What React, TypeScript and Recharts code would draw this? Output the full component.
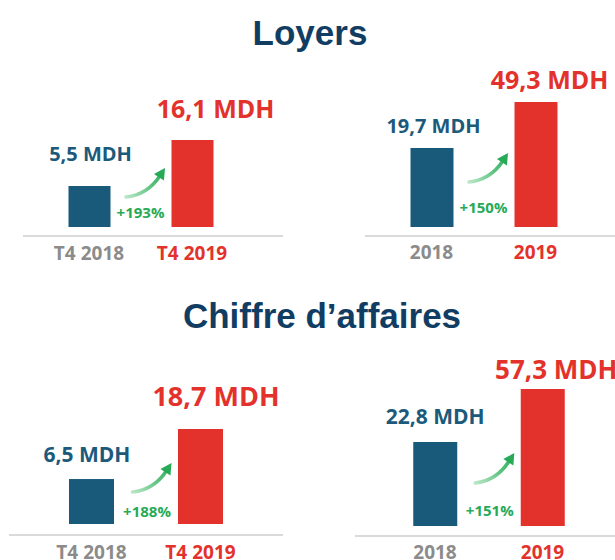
import React from 'react';
import { BarChart, Bar, XAxis, YAxis } from 'recharts';

// ---- data ----
const quarterCategories = ['T4 2018', 'T4 2019'];
const yearCategories = ['2018', '2019'];
const loyersQuarterValues = [5.5, 16.1];
const loyersYearValues = [19.7, 49.3];
const caQuarterValues = [6.5, 18.7];
const caYearValues = [22.8, 57.3];
const growthLabels = ['+193%', '+150%', '+188%', '+151%'];
const titles = ['Loyers', 'Chiffre d’affaires'];

// ---- styles ----
const BLUE = '#195a7a';
const RED = '#e3322b';
const GREEN = '#27aa56';
const GRAY = '#8b8b8b';
const NAVY = '#123d63';
const LINE = '#dadada';
const LABEL_FONT = '"Open Sans", "Noto Sans", sans-serif';
const TITLE_FONT = '"Liberation Sans", Arial, sans-serif';

const fmt = (v: number) => `${v.toFixed(1).replace('.', ',')} MDH`;

type Cfg = {
  id: string;
  categories: string[];
  values: number[];
  growth: string;
  left: number;
  top: number;
  width: number;
  height: number;
  margin: { top: number; left: number; right: number; bottom: number };
  xAxisHeight: number;
  tickMargin: number;
  barSize: number;
  dmin: number;
  labels: { dx: number; rise: number; size: number }[];
  arrow: { startRise: number; tipRise: number; pctDrop: number };
  line: { x: number; y: number; w: number };
};

const charts: Cfg[] = [
  {
    id: 'a',
    categories: quarterCategories,
    values: loyersQuarterValues,
    growth: growthLabels[0],
    left: 0, top: 0, width: 300, height: 280,
    margin: { top: 140, left: 37.5, right: 56.5, bottom: 13 },
    xAxisHeight: 40, tickMargin: 13, barSize: 42, dmin: 0.74,
    labels: [{ dx: 1, rise: 25, size: 20 }, { dx: 23, rise: 22, size: 25 }],
    arrow: { startRise: 30, tipRise: 59, pctDrop: 9 },
    line: { x: 23, y: 235, w: 260 },
  },
  {
    id: 'b',
    categories: yearCategories,
    values: loyersYearValues,
    growth: growthLabels[1],
    left: 310, top: 0, width: 305, height: 280,
    margin: { top: 102, left: 69.5, right: 27.5, bottom: 13 },
    xAxisHeight: 40, tickMargin: 12, barSize: 43, dmin: 0,
    labels: [{ dx: 1.5, rise: 15, size: 20 }, { dx: 13.5, rise: 13, size: 25 }],
    arrow: { startRise: 45, tipRise: 74, pctDrop: 14 },
    line: { x: 365, y: 235, w: 250 },
  },
  {
    id: 'c',
    categories: quarterCategories,
    values: caQuarterValues,
    growth: growthLabels[2],
    left: 0, top: 280, width: 300, height: 280,
    margin: { top: 149, left: 37, right: 45, bottom: 6 },
    xAxisHeight: 30, tickMargin: 15, barSize: 45, dmin: 0.91,
    labels: [{ dx: -4.5, rise: 17, size: 21 }, { dx: 15.5, rise: 23, size: 27 }],
    arrow: { startRise: 32, tipRise: 61, pctDrop: 7 },
    line: { x: 9, y: 534, w: 274 },
  },
  {
    id: 'd',
    categories: yearCategories,
    values: caYearValues,
    growth: growthLabels[3],
    left: 310, top: 280, width: 305, height: 280,
    margin: { top: 109, left: 71.25, right: 18.75, bottom: 4 },
    xAxisHeight: 30, tickMargin: 13, barSize: 44, dmin: 0.12,
    labels: [{ dx: 0, rise: 18, size: 21 }, { dx: 13.5, rise: 10, size: 26 }],
    arrow: { startRise: 43, tipRise: 73, pctDrop: 10 },
    line: { x: 355, y: 535, w: 260 },
  },
];

const Arrow = ({ rx, b, cfg }: { rx: number; b: number; cfg: Cfg }) => {
  const sx = rx - 45.5;
  const sy = b - cfg.arrow.startRise;
  const tx = rx - 6.5;
  const ty = b - cfg.arrow.tipRise;
  const dx = tx - sx;
  const dy = ty - sy;
  const cx = sx + dx * 0.55;
  const cy = sy + dy * 0.08;
  let ux = tx - cx;
  let uy = ty - cy;
  const len = Math.hypot(ux, uy);
  ux /= len;
  uy /= len;
  const headLen = 11;
  const headW = 6;
  const bx = tx - ux * headLen;
  const by = ty - uy * headLen;
  const px = -uy;
  const py = ux;
  const gid = `grad-${cfg.id}`;
  return (
    <g>
      <defs>
        <linearGradient id={gid} gradientUnits="userSpaceOnUse" x1={sx} y1={sy} x2={tx} y2={ty}>
          <stop offset="0%" stopColor="#b9e6c6" />
          <stop offset="55%" stopColor="#5cc27f" />
          <stop offset="100%" stopColor={GREEN} />
        </linearGradient>
      </defs>
      <path
        d={`M${sx},${sy} Q${cx},${cy} ${bx + ux * 1.5},${by + uy * 1.5}`}
        fill="none"
        stroke={`url(#${gid})`}
        strokeWidth={3.5}
        strokeLinecap="round"
      />
      <polygon
        points={`${tx},${ty} ${bx + px * headW},${by + py * headW} ${bx - px * headW},${by - py * headW}`}
        fill={GREEN}
      />
      <text
        x={rx - 31}
        y={b - cfg.arrow.pctDrop}
        textAnchor="middle"
        fontFamily={LABEL_FONT}
        fontWeight={700}
        fontSize={15}
        fill={GREEN}
      >
        {cfg.growth}
      </text>
    </g>
  );
};

const makeShape = (cfg: Cfg) => (props: any) => {
  const { x, y, width, height, index } = props;
  const color = index === 0 ? BLUE : RED;
  const lab = cfg.labels[index];
  const b = y + height;
  return (
    <g>
      <rect x={x} y={y} width={width} height={height} fill={color} />
      <text
        x={x + width / 2 + lab.dx}
        y={y - lab.rise}
        textAnchor="middle"
        fontFamily={LABEL_FONT}
        fontWeight={700}
        fontSize={lab.size}
        fill={index === 0 ? '#1c5a7b' : RED}
      >
        {fmt(cfg.values[index])}
      </text>
      {index === 1 ? <Arrow rx={x} b={b} cfg={cfg} /> : null}
    </g>
  );
};

const makeTick = (cfg: Cfg) => (props: any) => {
  const { x, y, payload, index } = props;
  return (
    <text
      x={x}
      y={y + 14}
      textAnchor="middle"
      fontFamily={LABEL_FONT}
      fontWeight={700}
      fontSize={19}
      fill={index === 0 ? GRAY : RED}
    >
      {payload.value}
    </text>
  );
};

const SmallChart = ({ cfg }: { cfg: Cfg }) => {
  const data = cfg.categories.map((c, i) => ({ cat: c, value: cfg.values[i] }));
  return (
    <div style={{ position: 'absolute', left: cfg.left, top: cfg.top }}>
      <BarChart width={cfg.width} height={cfg.height} data={data} margin={cfg.margin}>
        <XAxis
          dataKey="cat"
          axisLine={false}
          tickLine={false}
          interval={0}
          height={cfg.xAxisHeight}
          tickMargin={cfg.tickMargin}
          tick={makeTick(cfg)}
        />
        <YAxis type="number" scale="sqrt" domain={[cfg.dmin, 'dataMax']} hide />
        <Bar dataKey="value" barSize={cfg.barSize} isAnimationActive={false} shape={makeShape(cfg)} />
      </BarChart>
    </div>
  );
};

export default function App() {
  return (
    <div
      style={{
        position: 'absolute',
        left: 0,
        top: 0,
        width: 615,
        height: 560,
        background: '#ffffff',
        overflow: 'hidden',
      }}
    >
      {charts.map((c) => (
        <div
          key={`line-${c.id}`}
          style={{
            position: 'absolute',
            left: c.line.x,
            top: c.line.y,
            width: c.line.w,
            height: 2,
            background: LINE,
          }}
        />
      ))}
      {charts.map((c) => (
        <SmallChart key={c.id} cfg={c} />
      ))}
      <div
        style={{
          position: 'absolute',
          left: 110,
          top: 15.4,
          width: 400,
          textAlign: 'center',
          fontFamily: TITLE_FONT,
          fontWeight: 700,
          fontSize: 35,
          lineHeight: '35px',
          color: NAVY,
        }}
      >
        {titles[0]}
      </div>
      <div
        style={{
          position: 'absolute',
          left: 122,
          top: 298.4,
          width: 400,
          textAlign: 'center',
          fontFamily: TITLE_FONT,
          fontWeight: 700,
          fontSize: 35,
          lineHeight: '35px',
          color: NAVY,
        }}
      >
        {titles[1]}
      </div>
    </div>
  );
}
